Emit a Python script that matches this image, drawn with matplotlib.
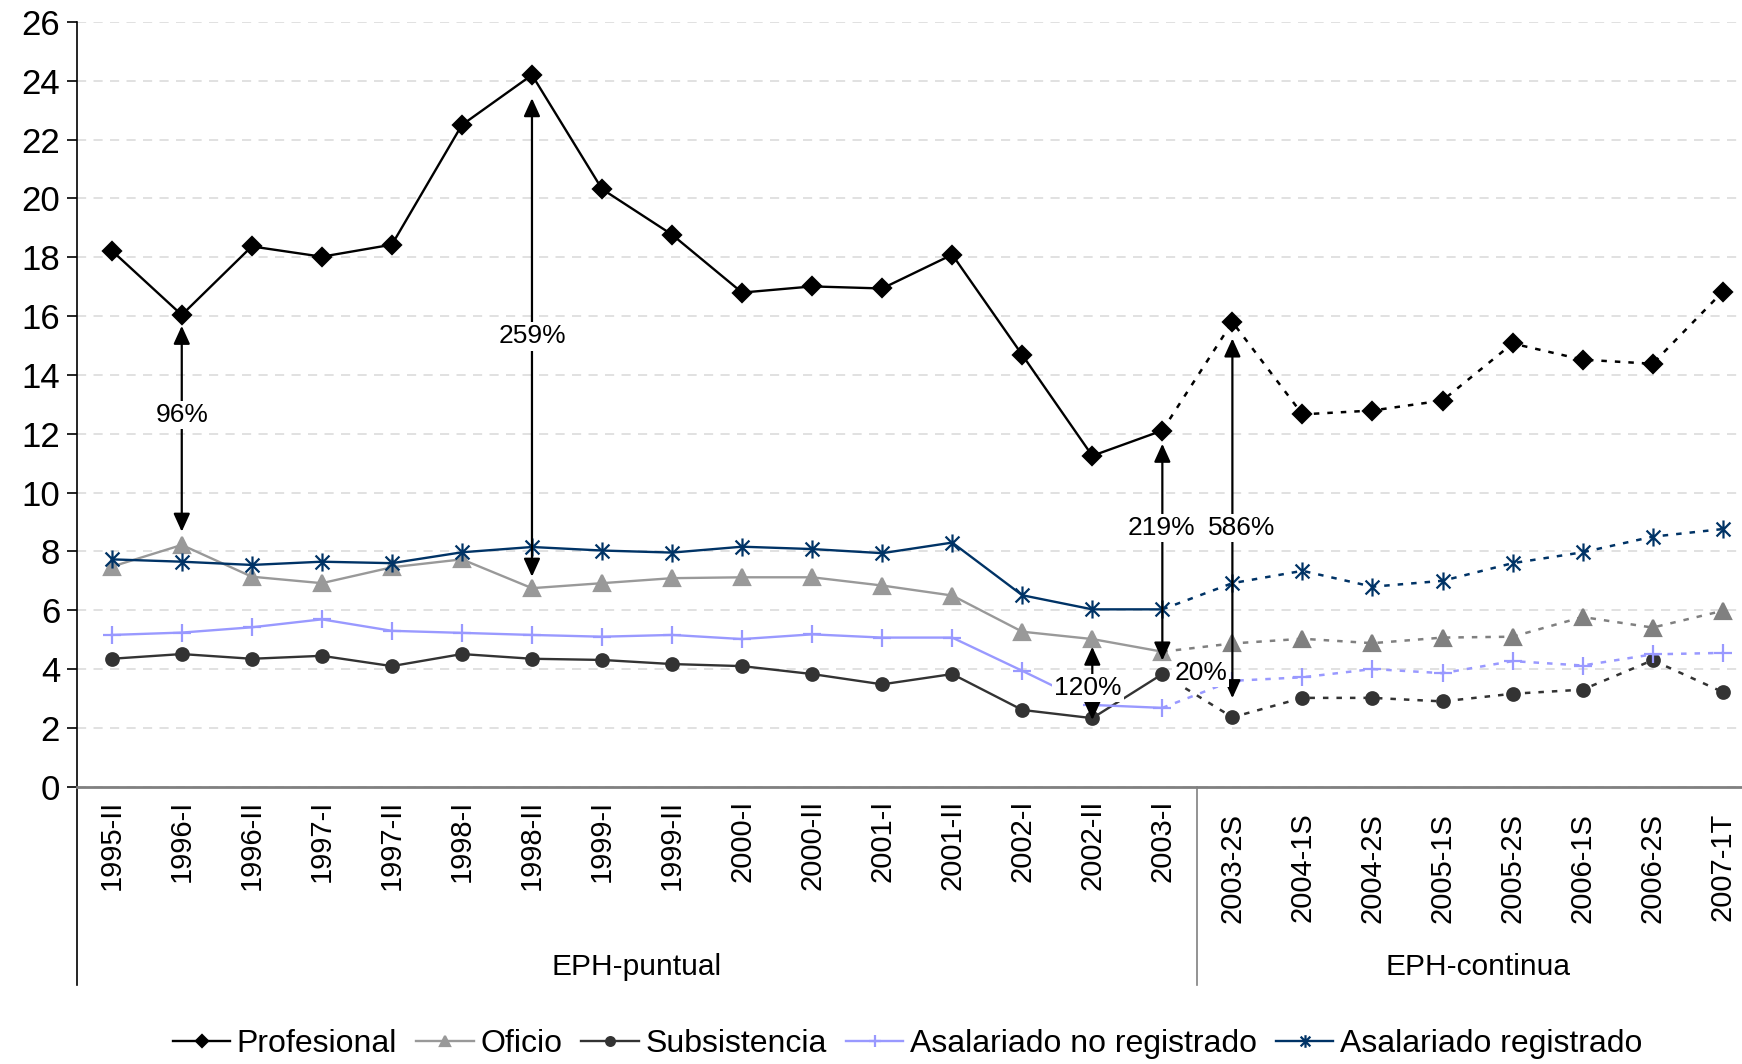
import matplotlib
matplotlib.use("Agg")
import matplotlib.pyplot as plt
from matplotlib.path import Path

plt.rcParams['font.family'] = ['Liberation Sans', 'DejaVu Sans']

periodos = ['1995-II', '1996-I', '1996-II', '1997-I', '1997-II', '1998-I', '1998-II',
            '1999-I', '1999-II', '2000-I', '2000-II', '2001-I', '2001-II', '2002-I',
            '2002-II', '2003-I',
            '2003-2S', '2004-1S', '2004-2S', '2005-1S', '2005-2S', '2006-1S', '2006-2S',
            '2007-1T']
grupos = ['EPH-puntual', 'EPH-continua']
n_puntual = 16

profesional = [18.23, 16.04, 18.37, 18.02, 18.43, 22.5, 24.2, 20.32, 18.77, 16.8,
               17.01, 16.94, 18.09, 14.68, 11.25, 12.11,
               15.8, 12.66, 12.79, 13.13, 15.07, 14.52, 14.38, 16.83]
oficio = [7.48, 8.22, 7.14, 6.92, 7.46, 7.73, 6.75, 6.92, 7.09, 7.12,
          7.12, 6.84, 6.5, 5.27, 5.02, 4.59,
          4.87, 5.03, 4.88, 5.07, 5.1, 5.77, 5.41, 5.98]
subsistencia = [4.35, 4.51, 4.35, 4.45, 4.1, 4.51, 4.35, 4.31, 4.17, 4.1,
                3.83, 3.48, 3.83, 2.61, 2.33, 3.83,
                2.36, 3.02, 3.02, 2.9, 3.16, 3.3, 4.3, 3.22]
asal_no_reg = [5.16, 5.24, 5.42, 5.69, 5.3, 5.23, 5.16, 5.1, 5.16, 5.02,
               5.18, 5.07, 5.07, 3.94, 2.78, 2.68,
               3.6, 3.72, 4.0, 3.86, 4.27, 4.12, 4.5, 4.55]
asal_reg = [7.73, 7.65, 7.54, 7.65, 7.6, 7.97, 8.15, 8.03, 7.96, 8.16,
            8.08, 7.94, 8.3, 6.51, 6.03, 6.03,
            6.92, 7.34, 6.8, 7.0, 7.6, 7.97, 8.5, 8.76]

# brechas: (posicion, extremo superior, extremo inferior, texto, x texto, y texto)
brechas = [(1, 15.67, 8.67, '96%', 1, 12.64),
           (6, 23.41, 7.14, '259%', 6, 15.31),
           (14, 4.76, 2.27, '120%', 13.94, 3.35),
           (15, 11.66, 4.29, '219%', 14.98, 8.79),
           (16, 15.24, 3.01, '586%', 16.13, 8.79)]
extra_txt = ('20%', 15.55, 3.86)

asterisco = Path([(-1, -1), (1, 1), (-1, 1), (1, -1), (0, -1.3), (0, 1.3)],
                 [Path.MOVETO, Path.LINETO, Path.MOVETO, Path.LINETO, Path.MOVETO, Path.LINETO])

series = [
    ('Profesional', profesional, 'D', 9, '#000000', '#000000'),
    ('Oficio', oficio, '^', 11, '#999999', '#808080'),
    ('Subsistencia', subsistencia, 'o', 9, '#333333', '#333333'),
    ('Asalariado no registrado', asal_no_reg, '+', 13, '#9999FF', '#9999FF'),
    ('Asalariado registrado', asal_reg, asterisco, 13, '#003366', '#003366'),
]

fig = plt.figure(figsize=(17.42, 10.64), dpi=100)
ax = fig.add_axes([76.7 / 1742, 1 - 786.7 / 1064, 1681 / 1742, 764.7 / 1064])

x = list(range(len(periodos)))
handles = []
for nombre, vals, mk, ms, c1, c2 in series:
    hueco = mk == '+' or mk is asterisco
    h, = ax.plot(x[:n_puntual], vals[:n_puntual], color=c1, lw=1.7, marker=mk,
                 ms=ms, mfc='none' if hueco else c1, mec=c1, mew=1.6, label=nombre)
    ax.plot(x[n_puntual - 1:], vals[n_puntual - 1:], color=c2, lw=1.8, ls=(0, (2.2, 3.2)),
            marker=mk, ms=ms, markevery=list(range(1, len(x) - n_puntual + 1)),
            mfc='none' if hueco else c2, mec=c2, mew=1.6)
    handles.append(h)

for xi, ytop, ybot, txt, tx, ty in brechas:
    ax.annotate('', xy=(xi, ytop), xytext=(xi, ybot),
                arrowprops=dict(arrowstyle='<|-|>,head_length=1.1,head_width=0.5',
                                mutation_scale=10, color='black', lw=1.6,
                                shrinkA=0, shrinkB=0), zorder=6)
    ax.text(tx, ty, txt, ha='center', va='center', fontsize=19, zorder=8,
            bbox=dict(facecolor='white', edgecolor='none', pad=1.5))
ax.text(extra_txt[1], extra_txt[2], extra_txt[0], ha='center', va='center', fontsize=19,
        zorder=8, bbox=dict(facecolor='white', edgecolor='none', pad=1.5))

ax.set_xlim(-0.5, len(periodos) - 0.5)
ax.set_ylim(0, 26)
ax.set_yticks(range(0, 27, 2))
ax.yaxis.grid(True, color='#D9D9D9', lw=1.1, ls=(0, (6, 4.8)))
ax.set_axisbelow(True)
ax.tick_params(axis='y', length=7, width=1.2, labelsize=25, pad=5)
ax.set_xticks([])
for s in ['top', 'right']:
    ax.spines[s].set_visible(False)
ax.spines['left'].set_linewidth(1.2)
ax.spines['bottom'].set_color('#808080')
ax.spines['bottom'].set_linewidth(2)

# etiquetas de categorias
for i, lab in enumerate(periodos):
    off = 13 if i < n_puntual else 26
    ax.annotate(lab, xy=(i, 0), xycoords=('data', 'axes fraction'), xytext=(0, -off),
                textcoords='offset pixels', rotation=90, ha='center', va='top', fontsize=21)

# separadores de grupo
ax.axvline(-0.5, ymin=-0.259, ymax=0, color='black', lw=1.2, clip_on=False)
ax.axvline(n_puntual - 0.5, ymin=-0.259, ymax=0, color='#808080', lw=1.2, clip_on=False)
ax.annotate(grupos[0], xy=((n_puntual - 1) / 2, 0), xycoords=('data', 'axes fraction'),
            xytext=(0, -180), textcoords='offset pixels', ha='center', va='center', fontsize=21.5)
ax.annotate(grupos[1], xy=((n_puntual - 0.5 + len(periodos) - 0.5) / 2, 0),
            xycoords=('data', 'axes fraction'), xytext=(0, -180), textcoords='offset pixels',
            ha='center', va='center', fontsize=21.5)

fig.legend(handles=handles, loc='center', bbox_to_anchor=(0.521, 1 - 1044 / 1064), ncol=5,
           frameon=False, fontsize=23, handlelength=1.8, handletextpad=0.2,
           columnspacing=0.6, markerscale=0.7)

fig.savefig('out.png', dpi=100)
